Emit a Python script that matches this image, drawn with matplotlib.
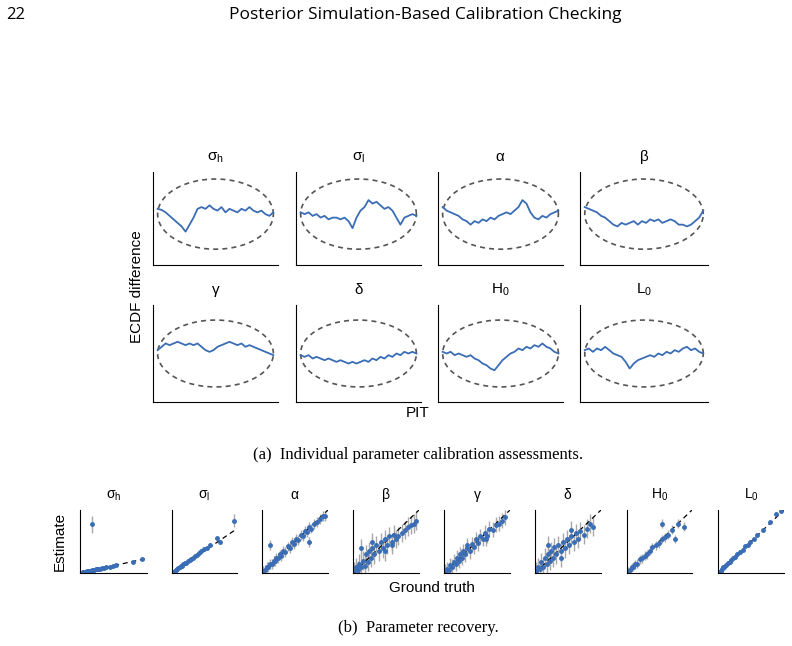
import matplotlib
matplotlib.use("Agg")
import matplotlib.pyplot as plt
import numpy as np

plt.rcParams['font.family'] = ['Liberation Sans', 'DejaVu Sans']
plt.rcParams['mathtext.fontset'] = 'custom'
plt.rcParams['mathtext.rm'] = 'Liberation Sans'
plt.rcParams['mathtext.it'] = 'Liberation Sans'
plt.rcParams['mathtext.bf'] = 'Liberation Sans'

BLUE = '#3a6db5'
names = [r'$\sigma_\mathrm{h}$', r'$\sigma_\mathrm{l}$', r'$\alpha$', r'$\beta$',
         r'$\gamma$', r'$\delta$', r'$\mathrm{H_0}$', r'$\mathrm{L_0}$']

ecdf = {
 0: [0.15,0.12,0.05,-0.05,-0.15,-0.25,-0.35,-0.5,-0.3,-0.1,0.15,0.2,0.15,0.25,0.15,0.1,0.2,0.05,0.15,0.1,0.05,0.15,0.1,0.2,0.1,0.05,0.1,0.0,-0.05,0.05],
 1: [0.05,0.0,0.05,-0.05,0.0,-0.1,-0.05,-0.15,-0.1,-0.1,-0.15,-0.1,-0.2,-0.4,-0.1,0.1,0.2,0.4,0.3,0.35,0.25,0.15,0.2,0.1,-0.1,-0.3,-0.1,-0.05,0.0,-0.05],
 2: [0.2,0.1,0.05,0.0,-0.05,-0.15,-0.2,-0.3,-0.2,-0.25,-0.15,-0.2,-0.1,-0.15,-0.05,0.0,0.05,0.0,0.1,0.2,0.4,0.3,0.05,-0.1,-0.15,-0.05,-0.1,0.0,0.05,0.1],
 3: [0.2,0.15,0.1,0.05,-0.05,-0.1,-0.2,-0.3,-0.35,-0.25,-0.3,-0.25,-0.2,-0.3,-0.2,-0.25,-0.15,-0.2,-0.15,-0.25,-0.2,-0.15,-0.2,-0.3,-0.3,-0.35,-0.3,-0.2,-0.1,0.1],
 4: [0.1,0.2,0.3,0.25,0.3,0.35,0.3,0.25,0.3,0.25,0.3,0.2,0.1,0.05,0.1,0.2,0.25,0.3,0.35,0.3,0.25,0.3,0.2,0.25,0.2,0.15,0.1,0.05,0.0,-0.05],
 5: [-0.05,-0.1,-0.05,-0.15,-0.1,-0.15,-0.2,-0.15,-0.2,-0.25,-0.2,-0.25,-0.3,-0.25,-0.3,-0.25,-0.2,-0.25,-0.15,-0.2,-0.1,-0.15,-0.05,-0.1,0.0,-0.05,0.05,0.0,0.05,0.0],
 6: [0.05,0.0,0.05,-0.05,0.0,-0.05,-0.1,-0.05,-0.15,-0.2,-0.3,-0.35,-0.45,-0.5,-0.35,-0.2,-0.1,0.0,0.05,0.15,0.1,0.2,0.15,0.25,0.2,0.3,0.2,0.15,0.05,0.0],
 7: [0.1,0.15,0.05,0.15,0.1,0.2,0.1,0.0,-0.05,-0.1,-0.25,-0.45,-0.3,-0.2,-0.15,-0.1,-0.05,-0.1,0.0,-0.05,0.05,0.0,0.1,0.05,0.15,0.2,0.1,0.15,0.05,0.0],
}

truth = {
 0: [0.02,0.03,0.04,0.05,0.06,0.07,0.08,0.1,0.11,0.12,0.14,0.15,0.16,0.18,0.2,0.22,0.24,0.26,0.28,0.3,0.33,0.36,0.4,0.45,0.5,0.55,0.8,0.95,0.18],
 1: [0.02,0.04,0.06,0.08,0.1,0.12,0.14,0.16,0.18,0.2,0.22,0.25,0.28,0.3,0.33,0.36,0.4,0.43,0.46,0.5,0.55,0.6,0.7,0.75,0.97],
 2: [0.02,0.05,0.08,0.1,0.12,0.15,0.18,0.2,0.22,0.25,0.28,0.3,0.33,0.36,0.4,0.43,0.46,0.5,0.53,0.56,0.6,0.63,0.66,0.7,0.73,0.76,0.8,0.85,0.9,0.95,0.98,0.13,0.72],
 3: [0.02,0.05,0.08,0.1,0.13,0.15,0.18,0.2,0.23,0.25,0.28,0.3,0.33,0.36,0.4,0.43,0.46,0.5,0.53,0.56,0.6,0.63,0.66,0.7,0.75,0.8,0.85,0.9,0.95,0.98,0.12,0.3,0.5,0.6],
 4: [0.02,0.05,0.08,0.1,0.13,0.15,0.18,0.2,0.23,0.25,0.28,0.3,0.33,0.36,0.4,0.43,0.46,0.5,0.53,0.56,0.6,0.63,0.66,0.7,0.75,0.8,0.85,0.9,0.95,0.35,0.65],
 5: [0.02,0.05,0.08,0.1,0.13,0.15,0.18,0.2,0.23,0.25,0.28,0.3,0.33,0.36,0.4,0.43,0.46,0.5,0.53,0.56,0.6,0.63,0.66,0.7,0.75,0.8,0.85,0.9,0.2,0.4,0.55],
 6: [0.02,0.05,0.08,0.1,0.13,0.16,0.2,0.24,0.28,0.32,0.36,0.4,0.45,0.5,0.55,0.6,0.65,0.7,0.8,0.9,0.55,0.75],
 7: [0.02,0.04,0.06,0.08,0.1,0.12,0.15,0.18,0.2,0.23,0.26,0.3,0.34,0.38,0.42,0.46,0.5,0.55,0.6,0.7,0.8,0.9,0.97],
}
estimate = {
 0: [0.02,0.03,0.05,0.05,0.07,0.07,0.09,0.1,0.12,0.12,0.15,0.15,0.17,0.18,0.21,0.22,0.25,0.26,0.29,0.3,0.34,0.36,0.41,0.45,0.5,0.55,0.8,0.95,3.4],
 1: [0.03,0.05,0.07,0.09,0.12,0.13,0.16,0.17,0.2,0.22,0.24,0.27,0.3,0.33,0.35,0.4,0.42,0.47,0.5,0.55,0.58,0.65,0.8,0.72,1.2],
 2: [0.03,0.05,0.1,0.1,0.15,0.14,0.2,0.19,0.25,0.24,0.3,0.28,0.35,0.34,0.43,0.4,0.5,0.47,0.55,0.53,0.62,0.6,0.68,0.66,0.74,0.72,0.8,0.82,0.88,0.92,0.93,0.45,0.5],
 3: [0.03,0.1,0.05,0.15,0.1,0.2,0.12,0.3,0.18,0.35,0.25,0.4,0.3,0.45,0.35,0.5,0.4,0.55,0.45,0.6,0.5,0.62,0.55,0.6,0.65,0.7,0.75,0.78,0.8,0.85,0.4,0.5,0.35,0.45],
 4: [0.02,0.06,0.05,0.13,0.1,0.18,0.15,0.25,0.2,0.3,0.25,0.35,0.3,0.4,0.35,0.47,0.42,0.55,0.48,0.6,0.55,0.65,0.6,0.72,0.7,0.78,0.8,0.85,0.9,0.45,0.55],
 5: [0.03,0.1,0.06,0.18,0.1,0.25,0.15,0.3,0.2,0.35,0.25,0.42,0.3,0.45,0.35,0.5,0.4,0.55,0.45,0.6,0.5,0.65,0.55,0.68,0.62,0.72,0.8,0.75,0.45,0.25,0.7],
 6: [0.03,0.05,0.1,0.1,0.14,0.15,0.22,0.24,0.28,0.3,0.36,0.42,0.45,0.48,0.55,0.58,0.62,0.7,0.8,0.75,0.8,0.55],
 7: [0.02,0.04,0.07,0.09,0.1,0.13,0.16,0.18,0.21,0.24,0.26,0.3,0.34,0.38,0.43,0.45,0.5,0.55,0.62,0.7,0.82,0.95,1.0],
}
errors = {0: 0.03, 1: 0.04, 2: 0.08, 3: 0.15, 4: 0.12, 5: 0.15, 6: 0.07, 7: 0.03}
big_err = {0: (28, 0.6), 1: (24, 0.15)}

fig = plt.figure(figsize=(7.92, 6.46), dpi=100)
W, H = 792, 646
def ax_px(x0, y0, x1, y1):
    return fig.add_axes([x0 / W, 1 - y1 / H, (x1 - x0) / W, (y1 - y0) / H])

fig.text(6 / W, 1 - 15 / H, '22', fontsize=12, family='Open Sans', va='center')
fig.text(425 / W, 1 - 15 / H, 'Posterior Simulation-Based Calibration Checking',
         fontsize=12.5, family='Open Sans', va='center', ha='center')

cols = [(153, 278), (296, 421), (438, 563), (580, 708)]
rows = [(172, 265), (305, 402)]
for i in range(8):
    r, c = divmod(i, 4)
    ax = ax_px(cols[c][0], rows[r][0], cols[c][1], rows[r][1])
    t = np.linspace(0, 2 * np.pi, 200)
    ax.plot(0.5 + 0.5 * np.cos(t), np.sin(t), ls=(0, (3, 2.5)), color='#555555', lw=1.2)
    x = np.linspace(0, 1, len(ecdf[i]))
    ax.plot(x, ecdf[i], color=BLUE, lw=1.3)
    ax.set_xlim(-0.04, 1.04)
    ax.set_ylim(-1.45, 1.45 if r == 1 else 1.2)
    ax.set_xticks([]); ax.set_yticks([])
    for s in ['top', 'right']:
        ax.spines[s].set_visible(False)
    ax.set_title(names[i], fontsize=11, pad=8)
fig.text(137 / W, 1 - 287 / H, 'ECDF difference', rotation=90, fontsize=11, ha='center', va='center')
fig.text(418 / W, 1 - 413 / H, 'PIT', fontsize=11, ha='center', va='center')
fig.text(418 / W, 1 - 455 / H, '(a)  Individual parameter calibration assessments.',
         fontsize=12, family='Liberation Serif', ha='center', va='center')

bcols = [(80, 147), (172, 237), (262, 328), (353, 419), (444, 510), (535, 601), (627, 692), (718, 784)]
for i in range(8):
    ax = ax_px(bcols[i][0], 510, bcols[i][1], 573)
    tr = np.array(truth[i]); es = np.array(estimate[i])
    err = np.full(len(tr), errors[i])
    if i in big_err:
        err[big_err[i][0]] = big_err[i][1]
    ax.errorbar(tr, es, yerr=err, fmt='o', ms=2.5, color=BLUE, ecolor='#a8a8a8', elinewidth=1)
    ax.plot([0, 1.05], [0, 1.05], ls=(0, (4, 3)), color='black', lw=0.9)
    ax.set_xlim(0, 1.02)
    ymax = {0: 4.4, 1: 1.45}.get(i, 1.02)
    ax.set_ylim(0, ymax)
    ax.set_xticks([]); ax.set_yticks([])
    for s in ['top', 'right']:
        ax.spines[s].set_visible(False)
    ax.set_title(names[i], fontsize=10, pad=8)
fig.text(60 / W, 1 - 541 / H, 'Estimate', rotation=90, fontsize=11, ha='center', va='center')
fig.text(432 / W, 1 - 588 / H, 'Ground truth', fontsize=11, ha='center', va='center')
fig.text(418 / W, 1 - 628 / H, '(b)  Parameter recovery.',
         fontsize=12, family='Liberation Serif', ha='center', va='center')

fig.savefig('out.png', dpi=100)
